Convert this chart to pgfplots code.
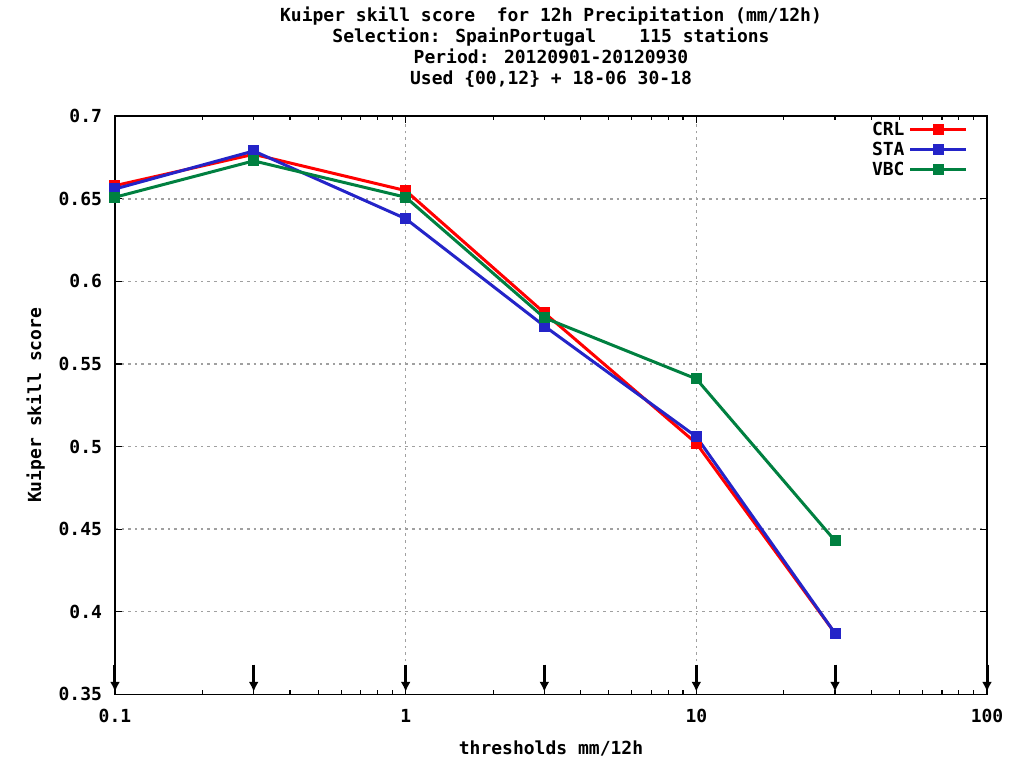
\documentclass[border=0pt]{standalone}
\usepackage{pgfplots}
\pgfplotsset{compat=1.18}
\usepackage{fontspec}
\setmainfont{DejaVu Sans Mono}[BoldFont={DejaVu Sans Mono Bold}]
\usetikzlibrary{arrows.meta}
\definecolor{crl}{RGB}{255,0,0}
\definecolor{sta}{RGB}{36,36,200}
\definecolor{vbc}{RGB}{0,128,64}
\definecolor{gridgray}{RGB}{160,160,160}

\begin{document}
\begin{tikzpicture}
\begin{axis}[
    scale only axis,
    width=436pt,
    height=289pt,
    xmode=log,
    xmin=0.1, xmax=100,
    ymin=0.35, ymax=0.7,
    ytick={0.35,0.4,0.45,0.5,0.55,0.6,0.65,0.7},
    xtick={0.1,1,10,100},
    minor xtick={0.2,0.3,0.4,0.5,0.6,0.7,0.8,0.9,2,3,4,5,6,7,8,9,20,30,40,50,60,70,80,90},
    xticklabels={0.1,1,10,100},
    yticklabels={0.35,0.4,0.45,0.5,0.55,0.6,0.65,0.7},
    tick align=inside,
    major tick length=3.5pt,
    minor tick length=2pt,
    axis line style={line width=0.8pt},
    every tick/.style={black, line width=0.6pt},
    xmajorgrids, ymajorgrids,
    major grid style={gridgray, line width=0.7pt, dash pattern=on 1.3pt off 2pt},
    font=\bfseries\fontsize{9}{10.5}\selectfont,
    title style={align=center, font=\bfseries\fontsize{9}{10.5}\selectfont, yshift=5pt},
    title={Kuiper skill score\ \ for 12h Precipitation (mm/12h)\\Selection: SpainPortugal\ \ \ \ 115 stations\\Period: 20120901-20120930\\Used \{00,12\} + 18-06 30-18},
    xlabel={thresholds mm/12h},
    ylabel={Kuiper skill score},
    xlabel style={yshift=-2pt},
    xticklabel style={yshift=-4pt},
    yticklabel style={xshift=-3pt},
    legend style={draw=none, fill=none, at={(0.985,1.005)}, anchor=north east,
        row sep=-2.2pt, font=\bfseries\fontsize{9}{10.5}\selectfont},
    legend cell align=right,
    legend plot pos=right,
    legend image code/.code={\draw[mark repeat=2, mark phase=2] plot coordinates {(0pt,0pt) (14pt,0pt) (28pt,0pt)};},
    every axis plot/.append style={line width=1.5pt, mark=square*, mark size=2pt, mark options={solid}},
    clip=false,
]
\addplot[color=crl] coordinates {(0.1,0.658) (0.3,0.677) (1,0.655) (3,0.581) (10,0.502) (30,0.387)};
\addplot[color=sta] coordinates {(0.1,0.656) (0.3,0.679) (1,0.638) (3,0.573) (10,0.506) (30,0.387)};
\addplot[color=vbc] coordinates {(0.1,0.651) (0.3,0.673) (1,0.651) (3,0.578) (10,0.541) (30,0.443)};
\legend{CRL,STA,VBC}
\foreach \xv in {0.1,0.3,1,3,10,30,100} {
    \edef\temp{\noexpand\draw[line width=1.5pt, -{Latex[length=5pt,width=5pt]}] (axis cs:\xv,0.368) -- (axis cs:\xv,0.3515);}
    \temp
}
\path (rel axis cs:0,0) ++(-57.5pt,-31.5pt) coordinate (bbsw);
\path (rel axis cs:1,1) ++(20pt,56pt) coordinate (bbne);
\path (bbsw) rectangle (bbne);
\end{axis}
\end{tikzpicture}
\end{document}
